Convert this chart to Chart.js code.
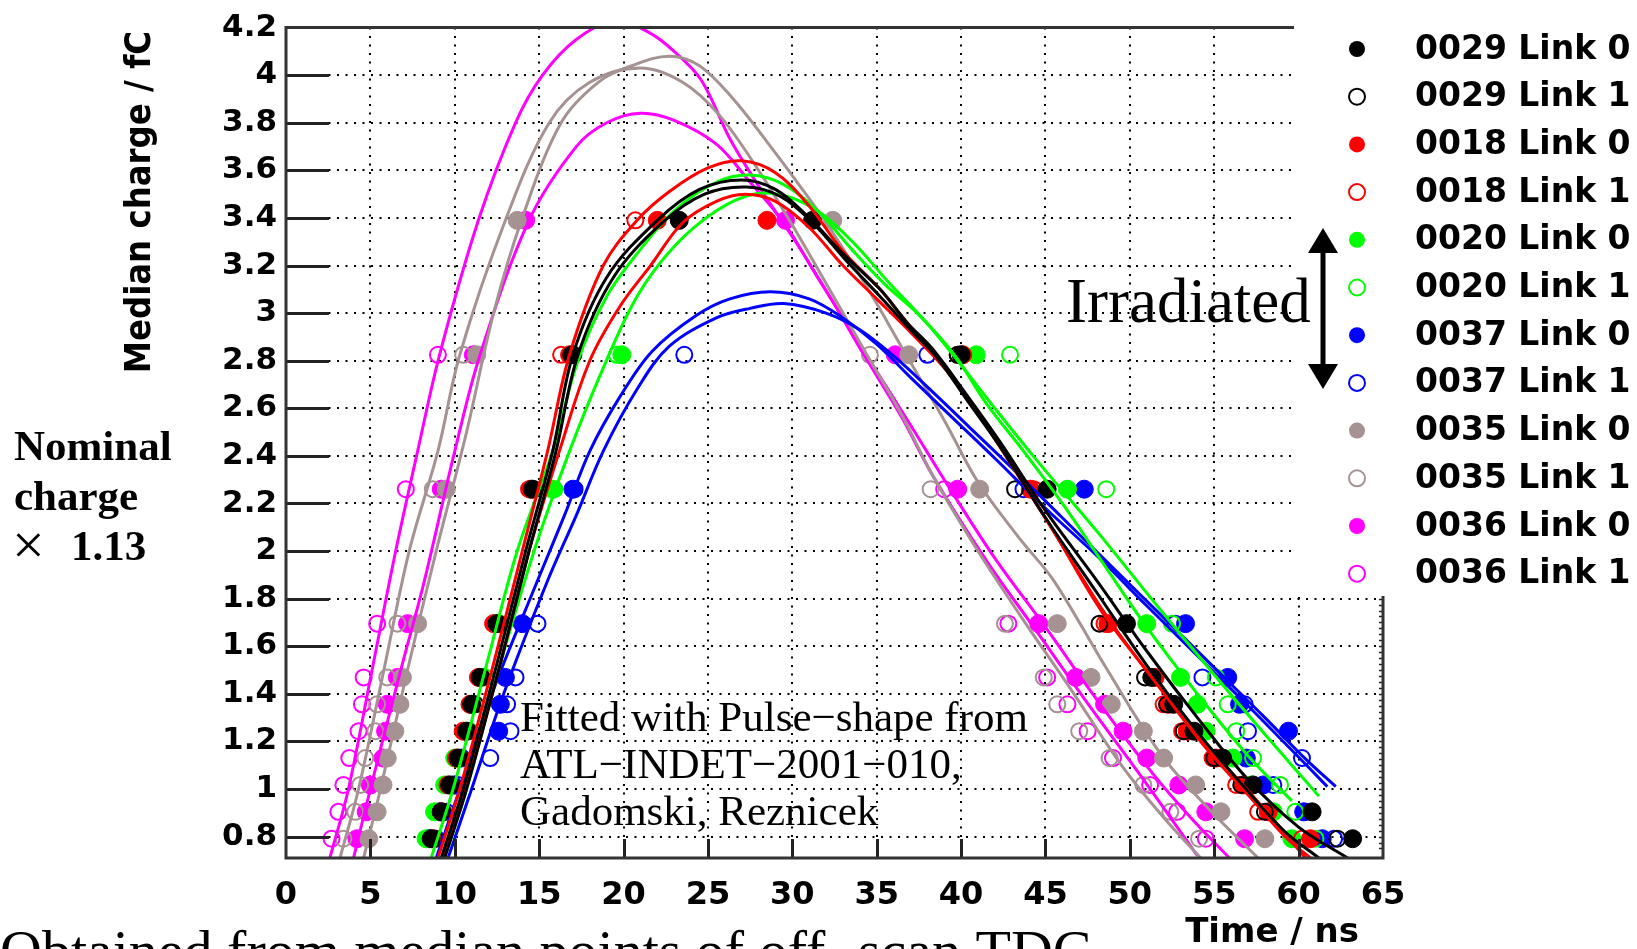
<!DOCTYPE html>
<html>
<head>
<meta charset="utf-8">
<title>Pulse shape scans</title>
<script src="https://cdn.jsdelivr.net/npm/chart.js@4.4.1/dist/chart.umd.min.js"></script>
<style>
  html, body { margin: 0; padding: 0; background: #fff; }
  #wrap { position: relative; width: 1637px; height: 949px; }
</style>
</head>
<body>
<div id="wrap"><canvas id="myChart"></canvas></div>
<script>
// charge steps of the scan (nominal charge x 1.13), fC
const chargeLevels = [0.791, 0.904, 1.017, 1.13, 1.243, 1.356, 1.469, 1.695, 2.26, 2.825, 3.39];

const xTicks = [0, 5, 10, 15, 20, 25, 30, 35, 40, 45, 50, 55, 60, 65];
const yTicks = [0.8, 1.0, 1.2, 1.4, 1.6, 1.8, 2.0, 2.2, 2.4, 2.6, 2.8, 3.0, 3.2, 3.4, 3.6, 3.8, 4.0, 4.2];
const yTickLabels = ['0.8', '1', '1.2', '1.4', '1.6', '1.8', '2', '2.2', '2.4', '2.6', '2.8', '3', '3.2', '3.4', '3.6', '3.8', '4', '4.2'];

const seriesNames = ['0029 Link 0', '0029 Link 1', '0018 Link 0', '0018 Link 1', '0020 Link 0', '0020 Link 1',
    '0037 Link 0', '0037 Link 1', '0035 Link 0', '0035 Link 1', '0036 Link 0', '0036 Link 1'];
const seriesColors = ['#000000', '#000000', '#ff0000', '#ff0000', '#00ff00', '#00ff00',
    '#0000ff', '#0000ff', '#a69292', '#a69292', '#ff00ff', '#ff00ff'];
const seriesOpen = [false, true, false, true, false, true, false, true, false, true, false, true];

// median times (ns) on the rising and the falling edge, one per charge step
const rise0029L0 = [8.6, 9.2, 9.7, 10.2, 10.7, 11.0, 11.5, 12.5, 14.6, 17.0, 23.3];
const fall0029L0 = [63.2, 60.8, 57.3, 55.5, 53.8, 52.6, 51.3, 49.8, 45.1, 40.0, 31.2];
const rise0029L1 = [8.8, 9.3, 9.8, 10.3, 10.8, 11.2, 11.6, 12.6, 14.7, 16.9, null];
const fall0029L1 = [62.3, 58.0, 56.6, 55.0, 53.2, 52.2, 50.9, 48.2, 43.2, 39.8, null];
const rise0018L0 = [8.7, 9.2, 9.6, 10.1, 10.5, 10.9, 11.4, 12.3, 14.5, 16.8, 22.0];
const fall0018L0 = [60.7, 58.2, 56.7, 55.1, 53.4, 52.3, 51.5, 48.7, 44.1, 40.1, 28.5];
const rise0018L1 = [8.8, 9.3, 9.7, 10.2, 10.6, 11.0, 11.5, 12.4, 14.4, 16.3, 20.7];
const fall0018L1 = [60.2, 57.6, 56.3, 54.9, 53.1, 52.0, 51.3, 48.5, 44.3, 39.8, null];
const rise0020L0 = [8.3, 8.8, 9.4, 10.0, 10.7, 11.0, 11.5, 12.4, 15.8, 19.9, null];
const fall0020L0 = [59.6, 58.5, 57.2, 56.1, 54.5, 54.0, 53.0, 51.0, 46.3, 40.9, null];
const rise0020L1 = [8.5, 9.0, 9.6, 10.3, 10.9, 11.2, 11.8, 12.7, 15.9, 19.6, null];
const fall0020L1 = [61.0, 59.8, 58.9, 57.3, 56.3, 55.8, 55.1, 52.5, 48.6, 42.9, null];
const rise0037L0 = [8.5, 9.1, 9.9, 10.4, 12.6, 12.7, 13.0, 14.0, 17.0, null, null];
const fall0037L0 = [61.4, 60.3, 57.9, 56.9, 59.4, 56.5, 55.8, 53.3, 47.3, null, null];
const rise0037L1 = [8.9, 9.5, 10.2, 12.1, 13.3, 13.1, 13.6, 14.9, 17.1, 23.6, null];
const fall0037L1 = [62.1, 60.4, 58.5, 60.2, 57.0, 56.8, 54.3, 52.7, 43.7, 38.0, null];
const rise0035L0 = [4.9, 5.4, 5.75, 6.0, 6.45, 6.75, 6.9, 7.8, 9.5, 11.3, 13.7];
const fall0035L0 = [58.0, 55.4, 53.9, 52.0, 50.8, 48.9, 47.7, 45.7, 41.1, 36.9, 32.4];
const rise0035L1 = [3.4, 4.1, 4.4, 4.7, 5.3, 5.4, 6.0, 6.6, 8.7, 10.5, null];
const fall0035L1 = [54.1, 52.4, 50.8, 48.8, 47.0, 45.7, 44.9, 42.6, 38.2, 34.6, null];
const rise0036L0 = [4.2, 4.75, 5.0, 5.75, 5.9, 6.0, 6.6, 7.2, 9.2, 11.1, 14.2];
const fall0036L0 = [56.8, 54.5, 52.9, 51.0, 49.6, 48.5, 46.8, 44.6, 39.8, 36.1, 29.6];
const rise0036L1 = [2.7, 3.1, 3.4, 3.75, 4.3, 4.5, 4.6, 5.4, 7.1, 9.0, null];
const fall0036L1 = [54.5, 52.8, 51.2, 49.0, 47.5, 46.3, 45.1, 42.8, 39.0, null, null];

// fitted pulse shapes, [time ns, charge fC]
const fit0029L0 = [[9.2,0.71],[10.5,1.0],[12.4,1.5],[14.2,2.0],[15.8,2.42],[17.0,2.825],[19.0,3.15],[22.0,3.39],[24.5,3.52],[27.0,3.56],[29.0,3.52],[31.0,3.40],[33.0,3.25],[35.2,3.10],[36.8,2.96],[38.3,2.85],[40.3,2.66],[42.3,2.46],[45.0,2.17],[48.0,1.88],[51.0,1.58],[54.0,1.3],[57.0,1.04],[60.0,0.84],[62.9,0.71]];
const fit0029L1 = [[9.4,0.71],[10.7,1.0],[12.6,1.5],[14.4,2.0],[16.0,2.42],[17.3,2.825],[19.4,3.15],[22.3,3.38],[24.8,3.5],[27.3,3.53],[29.3,3.49],[31.2,3.38],[33.2,3.22],[35.2,3.07],[37.0,2.93],[38.5,2.82],[40.3,2.64],[42.3,2.44],[45.0,2.14],[48.0,1.83],[51.0,1.52],[54.0,1.24],[57.0,0.99],[59.2,0.82],[61.2,0.71]];
const fit0018L0 = [[9.3,0.71],[10.6,1.0],[12.6,1.5],[14.4,2.0],[16.2,2.42],[18.0,2.8],[19.8,3.03],[21.6,3.2],[23.5,3.38],[25.5,3.47],[27.2,3.50],[29.0,3.47],[31.0,3.36],[33.0,3.2],[35.0,3.06],[37.0,2.92],[39.0,2.77],[41.0,2.58],[43.0,2.36],[45.5,2.08],[48.3,1.75],[51.3,1.47],[54.3,1.19],[57.2,0.96],[59.2,0.8],[60.7,0.71]];
const fit0018L1 = [[9.0,0.71],[10.3,1.0],[12.2,1.5],[14.0,2.0],[15.5,2.42],[16.8,2.825],[18.8,3.2],[20.8,3.39],[22.7,3.51],[25.0,3.61],[27.0,3.64],[29.0,3.59],[31.0,3.45],[33.0,3.26],[35.2,3.1],[36.8,2.96],[38.3,2.84],[40.3,2.65],[42.3,2.44],[45.0,2.14],[48.5,1.74],[51.5,1.45],[54.5,1.19],[57.3,0.97],[59.0,0.83],[60.4,0.71]];
const fit0020L0 = [[8.6,0.71],[9.9,1.0],[11.8,1.5],[13.7,2.0],[15.8,2.42],[17.3,2.8],[19.0,3.07],[20.8,3.25],[23.0,3.43],[25.5,3.55],[27.5,3.58],[29.5,3.54],[31.5,3.43],[33.5,3.27],[35.5,3.12],[37.4,3.0],[39.6,2.825],[41.5,2.62],[43.7,2.42],[46.0,2.2],[48.5,1.94],[51.0,1.68],[54.0,1.4],[57.0,1.14],[59.6,0.95]];
const fit0020L1 = [[9.4,0.71],[10.7,1.0],[12.6,1.5],[14.7,2.0],[16.8,2.42],[18.8,2.77],[20.8,3.07],[23.0,3.28],[25.5,3.43],[27.7,3.50],[29.7,3.49],[31.7,3.42],[33.7,3.29],[35.7,3.13],[37.7,2.98],[39.8,2.8],[42.0,2.6],[44.5,2.38],[48.2,2.07],[51.5,1.78],[55.0,1.48],[58.0,1.23],[61.2,0.97]];
const fit0037L0 = [[8.9,0.71],[10.3,1.0],[12.2,1.4],[14.9,1.875],[16.5,2.15],[18.0,2.42],[19.8,2.65],[21.7,2.84],[24.3,2.99],[26.3,3.06],[28.7,3.09],[31.0,3.06],[33.0,2.98],[35.0,2.87],[37.0,2.73],[39.5,2.56],[42.0,2.39],[45.0,2.18],[48.2,1.97],[51.0,1.77],[54.0,1.56],[57.0,1.35],[59.5,1.17],[61.7,1.01]];
const fit0037L1 = [[9.6,0.71],[11.0,1.0],[12.9,1.4],[15.5,1.875],[17.2,2.15],[18.8,2.42],[20.8,2.68],[22.7,2.86],[25.5,2.98],[27.5,3.02],[29.5,3.04],[32.0,3.0],[34.0,2.93],[36.0,2.82],[38.0,2.69],[40.5,2.52],[43.0,2.35],[46.0,2.14],[49.0,1.93],[52.0,1.72],[55.0,1.51],[58.0,1.3],[60.5,1.12],[62.2,1.01]];
const fit0035L0 = [[4.6,0.71],[5.6,1.0],[7.2,1.5],[8.9,2.0],[10.7,2.5],[12.3,3.0],[14.0,3.4],[16.3,3.8],[18.5,3.97],[20.5,4.04],[22.7,4.08],[24.5,4.04],[26.5,3.9],[28.5,3.72],[30.5,3.53],[32.2,3.36],[34.5,3.1],[36.7,2.83],[39.0,2.55],[41.0,2.29],[43.5,2.05],[45.5,1.875],[48.5,1.52],[51.8,1.15],[54.5,0.93],[57.6,0.71]];
const fit0035L1 = [[3.2,0.71],[4.3,1.0],[5.8,1.5],[7.3,2.0],[9.0,2.42],[10.3,2.825],[13.0,3.39],[15.6,3.8],[18.0,3.97],[21.0,4.03],[23.5,3.97],[25.7,3.83],[28.0,3.6],[30.0,3.37],[32.2,3.1],[34.3,2.84],[36.5,2.57],[38.3,2.32],[41.0,2.0],[43.5,1.73],[46.5,1.42],[49.5,1.1],[52.0,0.88],[54.2,0.71]];
const fit0036L0 = [[4.0,0.71],[5.0,1.0],[6.8,1.5],[8.2,1.875],[10.0,2.42],[11.5,2.825],[14.4,3.39],[17.2,3.70],[19.0,3.80],[21.0,3.84],[23.0,3.81],[25.5,3.71],[27.5,3.55],[29.5,3.38],[31.5,3.15],[34.6,2.80],[37.0,2.53],[39.0,2.30],[42.0,1.97],[45.0,1.68],[48.0,1.38],[51.3,1.07],[53.6,0.88],[55.9,0.71]];
const fit0036L1 = [[2.6,0.71],[3.7,1.0],[5.1,1.5],[6.5,2.0],[7.8,2.42],[9.1,2.825],[11.4,3.39],[13.6,3.8],[15.2,4.0],[17.2,4.15],[19.5,4.23],[21.5,4.18],[23.0,4.1],[24.6,3.98],[26.4,3.72],[28.5,3.48],[30.2,3.3],[32.3,3.06],[34.2,2.83],[36.5,2.56],[38.3,2.32],[41.5,1.96],[44.3,1.68],[47.5,1.36],[50.5,1.07],[52.3,0.89],[54.0,0.72]];

const riseTimes = [rise0029L0, rise0029L1, rise0018L0, rise0018L1, rise0020L0, rise0020L1, rise0037L0, rise0037L1, rise0035L0, rise0035L1, rise0036L0, rise0036L1];
const fallTimes = [fall0029L0, fall0029L1, fall0018L0, fall0018L1, fall0020L0, fall0020L1, fall0037L0, fall0037L1, fall0035L0, fall0035L1, fall0036L0, fall0036L1];
const fits = [fit0029L0, fit0029L1, fit0018L0, fit0018L1, fit0020L0, fit0020L1, fit0037L0, fit0037L1, fit0035L0, fit0035L1, fit0036L0, fit0036L1];

const toPoints = (rise, fall) => {
    let pts = [];
    chargeLevels.forEach((q, i) => {
        if (rise[i] !== null) pts.push({x: rise[i], y: q});
        if (fall[i] !== null) pts.push({x: fall[i], y: q});
    });
    return pts;
};

let datasets = [];

// fit curves underneath, markers on top
fits.forEach((f, i) => {
    datasets.push({
        label: seriesNames[i] + ' fit',
        data: f.map(([t, q]) => ({x: t, y: q})),
        showLine: true,
        borderColor: seriesColors[i],
        borderWidth: 3,
        pointRadius: 0,
        tension: 0.35,
        fill: false
    });
});

seriesNames.forEach((name, i) => {
    datasets.push({
        label: name,
        data: toPoints(riseTimes[i], fallTimes[i]),
        showLine: false,
        pointStyle: 'circle',
        pointRadius: seriesOpen[i] ? 8 : 9,
        borderWidth: seriesOpen[i] ? 2 : 1,
        borderColor: seriesColors[i],
        backgroundColor: seriesOpen[i] ? 'rgba(0,0,0,0)' : seriesColors[i]
    });
});

const boldSans = (size) => `bold ${size}px "DejaVu Sans", "Liberation Sans", sans-serif`;
const serif = (size, bold) => `${bold ? 'bold ' : ''}${size}px "Liberation Serif", "Times New Roman", serif`;

const overlay = {
    id: 'overlay',
    afterDraw(chart) {
        const {ctx, chartArea: area, scales: {x, y}} = chart;
        const boxLeft = 1294, boxBottom = 596;
        ctx.save();

        // legend panel sits over the top right corner of the frame
        ctx.fillStyle = '#fff';
        ctx.fillRect(boxLeft, 0, chart.width - boxLeft, boxBottom);

        // tick marks pointing inwards
        ctx.strokeStyle = '#222';
        ctx.lineWidth = 3;
        ctx.beginPath();
        yTicks.forEach(v => {
            if (v >= 4.2) return;
            const py = Math.round(y.getPixelForValue(v)) + 0.5;
            ctx.moveTo(area.left, py);
            ctx.lineTo(area.left + 43, py);
        });
        xTicks.forEach(v => {
            if (v <= 0 || v >= 65) return;
            const px = Math.round(x.getPixelForValue(v)) + 0.5;
            ctx.moveTo(px, area.bottom);
            ctx.lineTo(px, area.bottom - 19);
        });
        ctx.stroke();

        ctx.lineWidth = 1.5;
        ctx.beginPath();
        for (let v = 0.75; v < 1.8; v += 0.025) {
            const py = Math.round(y.getPixelForValue(v)) + 0.5;
            ctx.moveTo(area.right, py);
            ctx.lineTo(area.right - 4, py);
        }
        ctx.stroke();

        // frame
        ctx.lineWidth = 3;
        ctx.strokeStyle = '#333';
        ctx.beginPath();
        ctx.moveTo(boxLeft, area.top);
        ctx.lineTo(area.left, area.top);
        ctx.lineTo(area.left, area.bottom);
        ctx.lineTo(area.right, area.bottom);
        ctx.lineTo(area.right, boxBottom);
        ctx.stroke();

        // legend
        ctx.textAlign = 'left';
        ctx.textBaseline = 'middle';
        ctx.font = boldSans(33);
        seriesNames.forEach((name, i) => {
            const ry = 49 + i * 47.7;
            ctx.beginPath();
            ctx.arc(1357, ry, 8, 0, Math.PI * 2);
            if (seriesOpen[i]) {
                ctx.lineWidth = 2;
                ctx.strokeStyle = seriesColors[i];
                ctx.stroke();
            } else {
                ctx.fillStyle = seriesColors[i];
                ctx.fill();
            }
            ctx.fillStyle = '#000';
            ctx.fillText(name, 1415, ry + 1);
        });

        // axis titles
        ctx.fillStyle = '#000';
        ctx.save();
        ctx.translate(141, 31);
        ctx.rotate(-Math.PI / 2);
        ctx.scale(0.9, 1);
        ctx.textAlign = 'right';
        ctx.textBaseline = 'middle';
        ctx.font = boldSans(36);
        ctx.fillText('Median charge / fC', 0, 0);
        ctx.restore();

        ctx.textAlign = 'right';
        ctx.textBaseline = 'alphabetic';
        ctx.font = boldSans(34);
        ctx.fillText('Time / ns', 1359, 942);

        // annotations
        ctx.textAlign = 'left';
        ctx.font = serif(43, true);
        ctx.fillText('Nominal', 14, 460);
        ctx.fillText('charge', 14, 510);
        ctx.fillText('1.13', 71, 560);
        ctx.font = serif(58, false);
        ctx.fillText('\u00d7', 12, 564);

        ctx.font = serif(43, false);
        ctx.fillText('Fitted with Pulse\u2212shape from', 520, 731);
        ctx.fillText('ATL\u2212INDET\u22122001\u2212010,', 520, 778);
        ctx.fillText('Gadomski, Reznicek', 520, 825);

        ctx.font = serif(63, false);
        ctx.fillText('Irradiated', 1066, 322);

        ctx.font = serif(58, false);
        ctx.fillText('Obtained from median points of off\u2212scan TDC', 0, 970);

        // double arrow next to the irradiated modules
        ctx.fillRect(1320.5, 248, 5, 122);
        ctx.beginPath();
        ctx.moveTo(1323, 228); ctx.lineTo(1308, 253); ctx.lineTo(1338, 253); ctx.closePath();
        ctx.fill();
        ctx.beginPath();
        ctx.moveTo(1323, 389); ctx.lineTo(1308, 364); ctx.lineTo(1338, 364); ctx.closePath();
        ctx.fill();

        ctx.restore();
    }
};

const config = {
    type: 'scatter',
    data: {datasets: datasets},
    options: {
        responsive: true,
        maintainAspectRatio: false,
        devicePixelRatio: 1,
        animation: false,
        layout: {padding: {top: 24, right: 254, bottom: 0, left: 0}},
        plugins: {legend: {display: false}, tooltip: {enabled: false}},
        scales: {
            x: {
                type: 'linear',
                min: 0,
                max: 65,
                afterBuildTicks: (scale) => { scale.ticks = xTicks.map(v => ({value: v})); },
                afterFit: (scale) => { scale.height = 91; },
                grid: {color: '#000', lineWidth: 2, drawTicks: false},
                border: {display: false, dash: [2, 6.5]},
                ticks: {color: '#000', padding: 18, maxRotation: 0, autoSkip: false,
                    font: {family: 'DejaVu Sans', weight: 'bold', size: 32}}
            },
            y: {
                type: 'linear',
                min: 0.71,
                max: 4.2,
                afterBuildTicks: (scale) => { scale.ticks = yTicks.map(v => ({value: v})); },
                afterFit: (scale) => { scale.width = 286; },
                grid: {color: '#000', lineWidth: 2, drawTicks: false},
                border: {display: false, dash: [2, 6.5]},
                ticks: {color: '#000', padding: 9, autoSkip: false,
                    callback: (v, i) => yTickLabels[i],
                    font: {family: 'DejaVu Sans', weight: 'bold', size: 31}}
            }
        }
    },
    plugins: [overlay]
};

let myChart = new Chart(document.getElementById('myChart'), config);
</script>
</body>
</html>
